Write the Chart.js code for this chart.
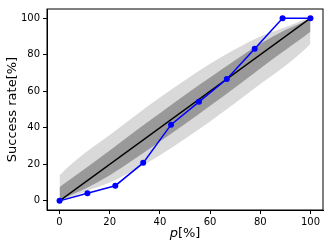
<!DOCTYPE html>
<html>
<head>
<meta charset="utf-8">
<script src="https://cdn.jsdelivr.net/npm/chart.js@4"></script>
<style>
  html, body { margin: 0; padding: 0; background: #fff; }
  #wrap { width: 332px; height: 249px; }
</style>
</head>
<body>
<div id="wrap"><canvas id="rateChart" width="332" height="249"></canvas></div>
<script>
// measured success rate
const pValues = [0, 11.11, 22.22, 33.33, 44.44, 55.56, 66.67, 77.78, 88.89, 100];
const successRate = [0, 4.2, 8.3, 20.8, 41.7, 54.2, 66.7, 83.3, 100, 100];

// confidence bands
const bandP = [0, 2.5, 5, 10, 20, 30, 40, 50, 60, 70, 80, 90, 95, 97.5, 100];
const lightUpper = [14, 17.5, 20.5, 26, 36, 46.5, 56.5, 66, 75, 83, 90, 95, 97.8, 99.1, 100];
const lightLower = [0, 0.9, 2.2, 5, 10, 17, 25, 34, 43.5, 53.5, 64, 74, 79.5, 82.5, 86];
const darkUpper = [7.5, 10, 12.5, 17.5, 27.5, 38, 48, 58, 67.5, 77, 86, 93.5, 96.5, 98.2, 100];
const darkLower = [0, 1.8, 3.5, 6.5, 14, 23, 32.5, 42, 52, 62, 72.5, 82.5, 87.5, 90, 92.5];

const diagonalX = [0, 100];
const xTicks = [0, 20, 40, 60, 80, 100];
const yTicks = [0, 20, 40, 60, 80, 100];

function toPoints(xs, ys){
    return xs.map((x, i) => ({ x: x, y: ys[i] }));
}

function bandDataset(ys, color, fill){
    return {
        data: toPoints(bandP, ys),
        borderWidth: 0,
        pointRadius: 0,
        backgroundColor: color,
        cubicInterpolationMode: 'monotone',
        fill: fill
    };
}

const frame = {
    id: 'frame',
    afterDraw(chart){
        const { ctx, chartArea: a } = chart;
        ctx.save();
        ctx.strokeStyle = '#000';
        ctx.lineWidth = 1;
        ctx.strokeRect(a.left, a.top, a.right - a.left, a.bottom - a.top);
        // x axis title with italic p
        ctx.fillStyle = '#000';
        ctx.textBaseline = 'middle';
        const italic = 'italic 13px "DejaVu Sans"';
        const normal = '13px "DejaVu Sans"';
        ctx.font = italic;
        const wp = ctx.measureText('p').width;
        ctx.font = normal;
        const wr = ctx.measureText('[%]').width;
        const cx = (a.left + a.right) / 2;
        const y = 234;
        const x0 = cx - (wp + wr) / 2;
        ctx.font = italic;
        ctx.fillText('p', x0, y);
        ctx.font = normal;
        ctx.fillText('[%]', x0 + wp, y);
        ctx.restore();
    }
};

const axisGrid = {
    display: true,
    drawOnChartArea: false,
    drawTicks: true,
    tickLength: 4,
    tickColor: '#000'
};

new Chart(document.getElementById('rateChart'), {
    type: 'line',
    data: {
        datasets: [
            {
                data: toPoints(pValues, successRate),
                borderColor: '#0000ff',
                backgroundColor: '#0000ff',
                borderWidth: 1.5,
                pointRadius: 3,
                pointBorderWidth: 0,
                fill: false
            },
            {
                data: toPoints(diagonalX, diagonalX),
                borderColor: '#000',
                borderWidth: 1.3,
                pointRadius: 0,
                fill: false
            },
            bandDataset(darkUpper, '#999999', '+1'),
            bandDataset(darkLower, '#999999', false),
            bandDataset(lightUpper, '#d9d9d9', '+1'),
            bandDataset(lightLower, '#d9d9d9', false)
        ]
    },
    options: {
        responsive: false,
        animation: false,
        layout: { padding: { top: 7, right: 9, left: 0, bottom: 0 } },
        plugins: {
            legend: { display: false },
            tooltip: { enabled: false }
        },
        scales: {
            x: {
                type: 'linear',
                min: -5,
                max: 105,
                grid: axisGrid,
                border: { display: true, color: '#000', width: 1 },
                ticks: {
                    color: '#000',
                    padding: 2,
                    maxRotation: 0,
                    font: { family: 'DejaVu Sans', size: 10 }
                },
                afterBuildTicks: (scale) => { scale.ticks = xTicks.map(v => ({ value: v })); },
                afterFit: (scale) => { scale.height = 39; }
            },
            y: {
                type: 'linear',
                min: -5,
                max: 105,
                grid: axisGrid,
                border: { display: true, color: '#000', width: 1 },
                ticks: {
                    color: '#000',
                    padding: 3,
                    font: { family: 'DejaVu Sans', size: 10 }
                },
                title: {
                    display: true,
                    text: 'Success rate[%]',
                    color: '#000',
                    padding: { top: 5, bottom: 0 },
                    font: { family: 'DejaVu Sans', size: 13 }
                },
                afterBuildTicks: (scale) => { scale.ticks = yTicks.map(v => ({ value: v })); },
                afterFit: (scale) => { scale.width = 47; }
            }
        }
    },
    plugins: [frame]
});
</script>
</body>
</html>
